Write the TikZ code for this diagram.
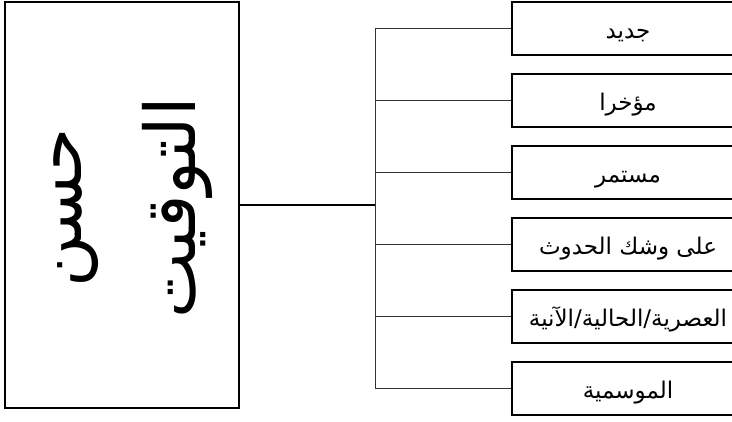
\documentclass[tikz,border=0pt]{standalone}
\usepackage{fontspec}
\usepackage{tikz}
\usetikzlibrary{positioning}
\newfontfamily\arabicfont[Script=Arabic]{DejaVu Sans}
\TeXXeTstate=1
\tikzstyle{timingbox} = [rectangle, draw=black, line width=1.5pt, minimum width=234pt, minimum height=406pt, inner sep=0pt]
\tikzstyle{item} = [rectangle, draw=black, line width=1.5pt, minimum width=232pt, minimum height=53pt, inner sep=0pt, text height=20pt, text depth=0pt, font=\arabicfont\fontsize{23}{26}\selectfont]
\tikzstyle{branch} = [line width=0.6pt, color=black!80]

\begin{document}
\begin{tikzpicture}[x=1pt, y=1pt, node distance=72pt]
\useasboundingbox (0,0) rectangle (732,421);
\clip (0,0) rectangle (732,421);
% Timing box
\node (timing) [timingbox] at (122,216) {};
\node (timingtext) [rotate=90, align=center, font=\arabicfont\fontsize{70}{114}\selectfont] at (133,213) {\beginR حسن\endR\\\beginR التوقيت\endR};

% Items
\node (b1) [item] at (628,392.5) {\beginR جديد\endR};
\node (b2) [item, below of=b1] {\beginR مؤخرا\endR};
\node (b3) [item, below of=b2] {\beginR مستمر\endR};
\node (b4) [item, below of=b3] {\beginR على وشك الحدوث\endR};
\node (b5) [item, below of=b4] {\beginR العصرية/الحالية/الآنية\endR};
\node (b6) [item, below of=b5] {\beginR الموسمية\endR};

% Connectors
\coordinate (trunk) at (375,216);
\draw[line width=1.2pt] (timing.east) -- (trunk);
\draw[branch] (trunk |- b1.west) -- (trunk |- b6.west);
\foreach \b in {b1,b2,b3,b4,b5,b6}
  \draw[branch] (trunk |- \b.west) -- (\b.west);
\end{tikzpicture}
\end{document}
